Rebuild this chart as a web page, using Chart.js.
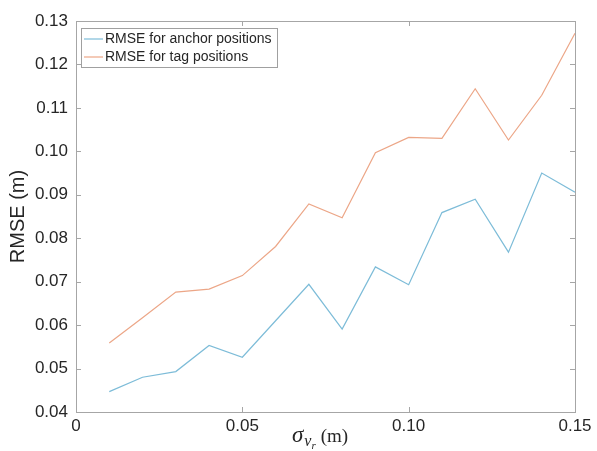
<!DOCTYPE html>
<html>
<head>
<meta charset="utf-8">
<script src="https://cdn.jsdelivr.net/npm/chart.js@4"></script>
<style>
  html, body { margin: 0; padding: 0; background: #fff; }
  #rmseChart { display: block; }
</style>
</head>
<body>
<canvas id="rmseChart" width="597" height="451"></canvas>
<script>
// noise level sigma_vr (m) and the RMSE of the estimated positions
const sigmaVr = [0.01, 0.02, 0.03, 0.04, 0.05, 0.06, 0.07, 0.08, 0.09, 0.10, 0.11, 0.12, 0.13, 0.14, 0.15];
const rmseAnchor = [0.0447, 0.0480, 0.0493, 0.0553, 0.0526, 0.0610, 0.0694, 0.0591, 0.0734, 0.0693, 0.0859, 0.0890, 0.0768, 0.0950, 0.0906];
const rmseTag = [0.0559, 0.0617, 0.0676, 0.0683, 0.0714, 0.0781, 0.0879, 0.0847, 0.0997, 0.1032, 0.1030, 0.1144, 0.1026, 0.1129, 0.1272];
const seriesLabels = ['RMSE for anchor positions', 'RMSE for tag positions'];
const seriesColors = ['#7dbcd8', '#eca687'];

const axisGray = '#a6a6a6';
const textColor = '#262626';
const sans = '"Liberation Sans", Arial, sans-serif';
const serif = '"Liberation Serif", "DejaVu Serif", serif';

function toPoints(ys) {
  return sigmaVr.map((x, i) => ({ x: x, y: ys[i] }));
}

// box around the axes, inward ticks, legend and axis titles, MATLAB style
const matlabAxes = {
  id: 'matlabAxes',
  afterDatasetsDraw(chart) {
    const ctx = chart.ctx;
    const a = chart.chartArea;
    const xs = chart.scales.x;
    const ys = chart.scales.y;
    const tick = 5;

    ctx.save();
    ctx.strokeStyle = axisGray;
    ctx.lineWidth = 1;
    ctx.strokeRect(Math.round(a.left) + 0.5, Math.round(a.top) + 0.5,
      Math.round(a.right - a.left), Math.round(a.bottom - a.top));

    ctx.beginPath();
    ys.ticks.forEach(t => {
      const py = Math.round(ys.getPixelForValue(t.value)) + 0.5;
      ctx.moveTo(a.left, py); ctx.lineTo(a.left + tick, py);
      ctx.moveTo(a.right, py); ctx.lineTo(a.right - tick, py);
    });
    xs.ticks.forEach(t => {
      const px = Math.round(xs.getPixelForValue(t.value)) + 0.5;
      ctx.moveTo(px, a.bottom); ctx.lineTo(px, a.bottom - tick);
      ctx.moveTo(px, a.top); ctx.lineTo(px, a.top + tick);
    });
    ctx.stroke();

    // legend box in the upper left corner
    const lx = a.left + 5, ly = a.top + 7, lw = 196, lh = 39;
    ctx.fillStyle = '#fff';
    ctx.fillRect(lx, ly, lw, lh);
    ctx.strokeStyle = '#a0a0a0';
    ctx.strokeRect(lx + 0.5, ly + 0.5, lw, lh);
    ctx.font = '14px ' + sans;
    ctx.textBaseline = 'middle';
    chart.data.datasets.forEach((ds, i) => {
      const cy = ly + 11 + i * 18;
      ctx.strokeStyle = ds.borderColor;
      ctx.lineWidth = 1.2;
      ctx.beginPath();
      ctx.moveTo(lx + 3, cy); ctx.lineTo(lx + 22, cy);
      ctx.stroke();
      ctx.fillStyle = textColor;
      ctx.fillText(ds.label, lx + 24, cy);
    });

    // y axis title
    ctx.fillStyle = textColor;
    ctx.font = '20px ' + sans;
    ctx.textAlign = 'center';
    ctx.textBaseline = 'middle';
    ctx.save();
    ctx.translate(18, (a.top + a.bottom) / 2);
    ctx.rotate(-Math.PI / 2);
    ctx.fillText('RMSE (m)', 0, 0);
    ctx.restore();

    // x axis title: sigma with subscript v_r
    const base = 442;
    ctx.textAlign = 'left';
    ctx.textBaseline = 'alphabetic';
    let x = 292;
    ctx.font = 'italic 23px ' + serif;
    ctx.fillText('σ', x, base);
    x += ctx.measureText('σ').width + 1;
    ctx.font = 'italic 16px ' + serif;
    ctx.fillText('v', x, base + 4);
    x += ctx.measureText('v').width;
    ctx.font = 'italic 11px ' + serif;
    ctx.fillText('r', x, base + 7);
    x += ctx.measureText('r').width + 5;
    ctx.font = '19px ' + serif;
    ctx.fillText('(m)', x, base);
    ctx.restore();
  }
};

new Chart(document.getElementById('rmseChart'), {
  type: 'line',
  data: {
    datasets: [
      { label: seriesLabels[0], data: toPoints(rmseAnchor), borderColor: seriesColors[0] },
      { label: seriesLabels[1], data: toPoints(rmseTag), borderColor: seriesColors[1] }
    ]
  },
  options: {
    responsive: false,
    animation: false,
    devicePixelRatio: 1,
    layout: { padding: { top: 21, right: 22, left: 0, bottom: 0 } },
    elements: {
      line: { borderWidth: 1.2, tension: 0, fill: false },
      point: { radius: 0 }
    },
    plugins: { legend: { display: false }, tooltip: { enabled: false } },
    scales: {
      x: {
        type: 'linear',
        min: 0,
        max: 0.15,
        afterFit: s => { s.height = 39; },
        grid: { display: false, drawTicks: false },
        border: { display: false },
        ticks: {
          stepSize: 0.05,
          padding: 4,
          color: textColor,
          font: { family: sans, size: 17 },
          callback: v => (Math.abs(v) < 1e-9 ? '0' : v.toFixed(2))
        }
      },
      y: {
        min: 0.04,
        max: 0.13,
        afterFit: s => { s.width = 76; },
        grid: { display: false, drawTicks: false },
        border: { display: false },
        ticks: {
          stepSize: 0.01,
          padding: 8,
          color: textColor,
          font: { family: sans, size: 17 },
          callback: v => v.toFixed(2)
        }
      }
    }
  },
  plugins: [matlabAxes]
});
</script>
</body>
</html>
